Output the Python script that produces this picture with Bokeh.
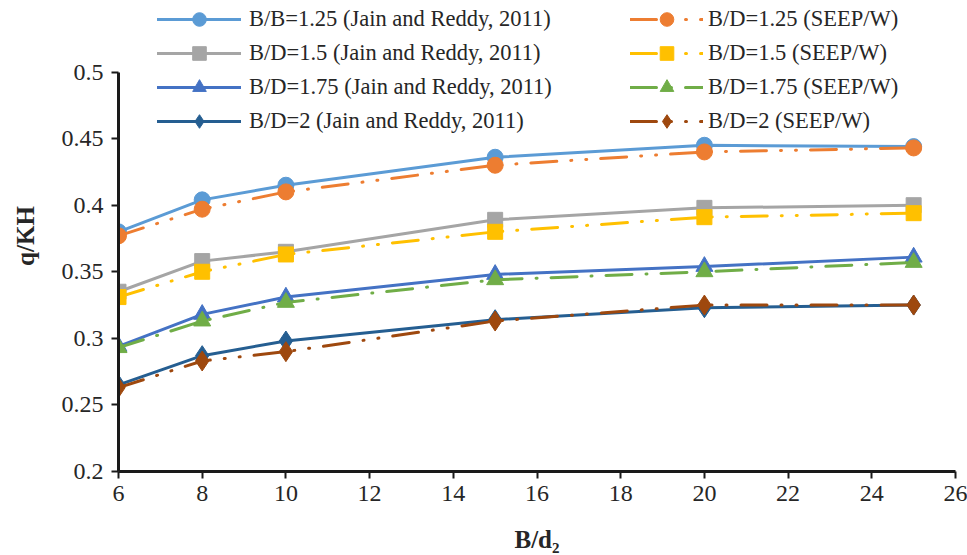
from bokeh.plotting import figure
from bokeh.models import Range1d, FixedTicker, Legend, LegendItem
from bokeh.embed import file_html
from bokeh.resources import INLINE

# ---- data ----
x_vals = [6, 8, 10, 15, 20, 25]
jain_125 = [0.380, 0.404, 0.415, 0.436, 0.445, 0.444]
seep_125 = [0.377, 0.397, 0.410, 0.430, 0.440, 0.443]
jain_150 = [0.335, 0.358, 0.365, 0.389, 0.398, 0.400]
seep_150 = [0.331, 0.350, 0.363, 0.380, 0.391, 0.394]
jain_175 = [0.294, 0.318, 0.331, 0.348, 0.354, 0.361]
seep_175 = [0.293, 0.313, 0.327, 0.344, 0.350, 0.357]
jain_200 = [0.265, 0.287, 0.298, 0.314, 0.323, 0.325]
seep_200 = [0.263, 0.283, 0.290, 0.313, 0.325, 0.325]

labels_jain = ["B/B=1.25 (Jain and Reddy, 2011)", "B/D=1.5 (Jain and Reddy, 2011)",
               "B/D=1.75 (Jain and Reddy, 2011)", "B/D=2 (Jain and Reddy, 2011)"]
labels_seep = ["B/D=1.25 (SEEP/W)", "B/D=1.5 (SEEP/W)", "B/D=1.75 (SEEP/W)", "B/D=2 (SEEP/W)"]

x_ticks = [6, 8, 10, 12, 14, 16, 18, 20, 22, 24, 26]
y_ticks = [0.2, 0.25, 0.3, 0.35, 0.4, 0.45, 0.5]
y_tick_labels = ["0.2", "0.25", "0.3", "0.35", "0.4", "0.45", "0.5"]
y_axis_min, y_axis_max = 0.2, 0.5

FONT = "'Liberation Serif', 'Times New Roman', serif"
TXT = "#262626"

# frame spans the full height above the x axis so the legend (which overlaps
# the area above 0.5) is not clipped; the y axis itself is bounded to 0.2-0.5
TOP_PAD_PX = 72
FRAME_H = 402
y_top = y_axis_max + (y_axis_max - y_axis_min) * TOP_PAD_PX / FRAME_H

p = figure(width=967, height=555, x_range=Range1d(6, 26), y_range=Range1d(y_axis_min, y_top),
           output_backend="svg", toolbar_location=None,
           min_border_left=118, min_border_right=12, min_border_top=0, min_border_bottom=81)
p.outline_line_color = None
p.grid.visible = False
p.background_fill_color = "white"

for ax in (p.xaxis[0], p.yaxis[0]):
    ax.axis_line_color = "#1a1a1a"
    ax.axis_line_width = 3
    ax.major_tick_line_color = "#1a1a1a"
    ax.major_tick_line_width = 2
    ax.major_tick_out = 7
    ax.major_tick_in = 0
    ax.minor_tick_line_color = None
    ax.major_label_text_font = FONT
    ax.major_label_text_font_size = "24px"
    ax.major_label_text_color = TXT
    ax.axis_label_text_font = FONT
    ax.axis_label_text_font_size = "25px"
    ax.axis_label_text_font_style = "bold"
    ax.axis_label_text_color = TXT

p.xaxis.ticker = FixedTicker(ticks=x_ticks)
p.yaxis.ticker = FixedTicker(ticks=y_ticks)
p.yaxis.bounds = (y_axis_min, y_axis_max)
p.yaxis.major_label_overrides = {t: l for t, l in zip(y_ticks, y_tick_labels)}
p.xaxis.axis_label = "B/d\u2082"
p.yaxis.axis_label = "q/KH"
p.xaxis.major_label_standoff = 7
p.yaxis.major_label_standoff = 8
p.xaxis.axis_label_standoff = 22
p.yaxis.axis_label_standoff = 20

series = [
    (jain_125, "#5B9BD5", "circle", 16, "solid"),
    (seep_125, "#ED7D31", "circle", 16, "26 14 1 14 1 14"),
    (jain_150, "#A5A5A5", "square", 15, "solid"),
    (seep_150, "#FFC000", "square", 15, "26 14 1 14 1 14"),
    (jain_175, "#4472C4", "triangle", 17, "solid"),
    (seep_175, "#70AD47", "triangle", 17, "26 14 1 14"),
    (jain_200, "#255E91", "diamond", 20, "solid"),
    (seep_200, "#9E480E", "diamond", 20, "26 14 1 14 1 14"),
]

items_left, items_right = [], []
for i, (ys, color, marker, size, dash) in enumerate(series):
    lr = p.line(x_vals, ys, line_color=color, line_width=3, line_dash=dash, line_cap="round")
    sr = p.scatter(x_vals, ys, marker=marker, size=size, fill_color=color, line_color=color)
    if i % 2 == 0:
        items_left.append(LegendItem(label=labels_jain[i // 2], renderers=[lr, sr]))
    else:
        items_right.append(LegendItem(label=labels_seep[i // 2], renderers=[lr, sr]))

def make_legend(items, loc, gw, standoff):
    lg = Legend(items=items, location=loc, orientation="vertical",
                glyph_width=gw, glyph_height=34, label_height=34, spacing=0,
                padding=0, margin=0, label_standoff=standoff,
                label_text_font=FONT, label_text_font_size="22.5px", label_text_color=TXT,
                border_line_color=None, background_fill_alpha=0)
    return lg

p.add_layout(make_legend(items_left, (39, 333), 84, 8), "center")
p.add_layout(make_legend(items_right, (512, 333), 73, 5), "center")

open("out.html", "w").write(file_html(p, INLINE))
